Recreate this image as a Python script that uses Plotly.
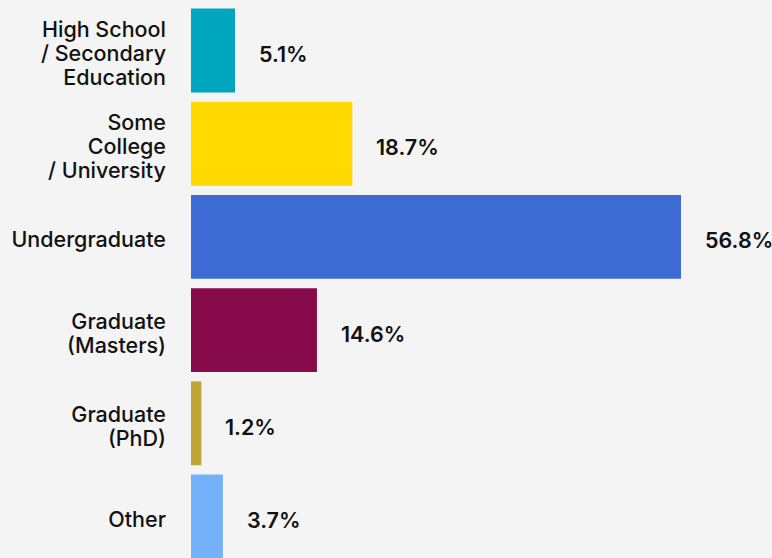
import plotly.graph_objects as go

categories = ["High School<br>/ Secondary<br>Education", "Some<br>College<br>/ University",
              "Undergraduate", "Graduate<br>(Masters)", "Graduate<br>(PhD)", "Other"]
values = [5.1, 18.7, 56.8, 14.6, 1.2, 3.7]
value_labels = ["5.1%", "18.7%", "56.8%", "14.6%", "1.2%", "3.7%"]
colors = ["#00A6BE", "#FFD900", "#3D6AD3", "#870A4B", "#BEA535", "#74B1FA"]

FONT = "Inter"
GLYPH = 21.5
ticktext = ["<br>".join(f'<span style="font-size:{GLYPH}px">{ln}</span>' for ln in c.split("<br>"))
            for c in categories]

fig = go.Figure(go.Bar(
    x=values, y=list(range(len(categories))), orientation="h",
    marker=dict(color=colors, line=dict(width=0)), width=0.9,
    hoverinfo="skip",
))
for i, (v, t) in enumerate(zip(values, value_labels)):
    fig.add_annotation(x=v, y=i, text=t, showarrow=False, xanchor="left",
                       xshift=22, yshift=-3.5,
                       font=dict(family=FONT, size=GLYPH, color="#111111", weight=600))

fig.update_layout(
    width=772, height=558, margin=dict(l=191, r=0, t=0, b=0),
    paper_bgcolor="#F4F4F4", plot_bgcolor="#F4F4F4", showlegend=False,
    xaxis=dict(range=[0, 67.35], visible=False),
    yaxis=dict(range=[5.445, -0.542], tickmode="array", tickvals=list(range(len(categories))),
               ticktext=ticktext, showgrid=False, zeroline=False, showline=False, ticks="",
               ticklabelstandoff=24, ticklabelshift=-4,
               tickfont=dict(family=FONT, size=18.5, color="#111111", weight=500)),
)
fig.write_html("out.html")
